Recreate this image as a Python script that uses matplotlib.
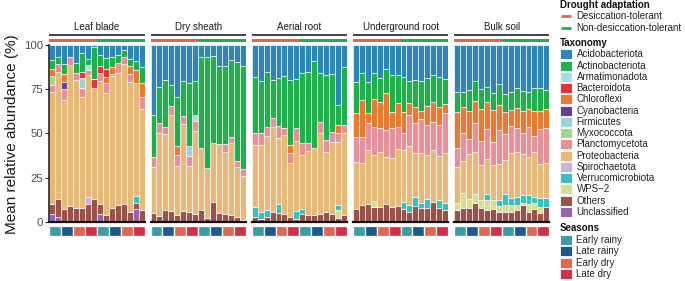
import matplotlib
matplotlib.use("Agg")
import matplotlib.pyplot as plt
from matplotlib.patches import Rectangle

plt.rcParams['font.family'] = ['Liberation Sans', 'DejaVu Sans']

# ---------------- data ----------------
taxa = ["Acidobacteriota", "Actinobacteriota", "Armatimonadota", "Bacteroidota",
        "Chloroflexi", "Cyanobacteria", "Firmicutes", "Myxococcota",
        "Planctomycetota", "Proteobacteria", "Spirochaetota", "Verrucomicrobiota",
        "WPS\u22122", "Others", "Unclassified"]
taxa_colors = ["#2e86b6", "#1fb04c", "#a8dde4", "#e8333a",
               "#e97a32", "#6a3d9a", "#9fd2e1", "#a6d68e",
               "#e8909a", "#e8b878", "#cbb2da", "#36c0c0",
               "#d5df90", "#9a524a", "#9265b3"]

panels = ["Leaf blade", "Dry sheath", "Aerial root", "Underground root", "Bulk soil"]
seasons = ["Early rainy", "Early rainy", "Late rainy", "Late rainy",
           "Early dry", "Early dry", "Late dry", "Late dry"] * 2
season_names = ["Early rainy", "Late rainy", "Early dry", "Late dry"]
season_colors = ["#3a9ea8", "#1b5a8c", "#e2674f", "#d22f4b"]
drought = ["Desiccation-tolerant"] * 8 + ["Non-desiccation-tolerant"] * 8
drought_names = ["Desiccation-tolerant", "Non-desiccation-tolerant"]
drought_colors = ["#e8663a", "#1fb04c"]

leaf_blade = {
    "Unclassified":      [4.3, 2.5, 0, 0, 0, 0, 0, 0, 4.3, 0, 0, 0, 0, 0, 7.2, 0],
    "Others":            [5.7, 10.5, 7.2, 9.0, 7.7, 7.5, 10.0, 12.6, 5.7, 3.8, 7.5, 9.2, 10.0, 5.5, 3.6, 6.6],
    "Verrucomicrobiota": [0, 0, 0, 0, 0, 0, 0, 0, 0, 0, 0, 0, 0, 0, 3.7, 0],
    "Spirochaetota":     [0, 0, 0, 0, 0, 0, 3.8, 0, 0, 0, 0, 0, 0, 0, 0, 0],
    "Proteobacteria":    [63.4, 71.5, 61.8, 79.9, 72.7, 62.9, 69.0, 63.1, 69.4, 69.0, 74.8, 75.0, 79.3, 73.6, 64.0, 57.0],
    "Planctomycetota":   [3.8, 4.8, 6.1, 4.3, 3.8, 5.3, 3.2, 0, 4.8, 5.7, 1.5, 5.6, 3.7, 4.7, 0, 7.2],
    "Myxococcota":       [5.4, 0, 0, 0, 0, 0, 0, 0, 0, 0, 0, 0, 0, 0, 0, 0],
    "Firmicutes":        [0, 0, 0, 0, 0, 5.6, 0, 0, 0, 0, 0, 0, 0, 0, 0, 0],
    "Cyanobacteria":     [0, 0, 3.8, 0, 0, 0, 0, 0, 0, 0, 0, 0, 0, 0, 0, 0],
    "Chloroflexi":       [3.8, 0, 4.9, 0, 0, 0, 0, 0, 0, 3.4, 3.6, 0, 0, 4.5, 7.5, 7.5],
    "Bacteroidota":      [0, 0, 0, 0, 0, 3.4, 0, 5.1, 4.1, 4.5, 0, 0, 0, 0, 0, 0],
    "Armatimonadota":    [0, 0, 0, 0, 0, 0, 2.9, 0, 0, 0, 0, 0, 0, 0, 0, 0],
    "Actinobacteriota":  [5.2, 3.7, 5.7, 0, 5.6, 10.8, 3.4, 18.2, 5.9, 6.3, 5.6, 4.4, 4.4, 4.0, 4.8, 9.4],
    "Acidobacteriota":   [8.4, 7.0, 10.5, 6.8, 10.2, 4.5, 7.7, 1.0, 5.8, 7.3, 7.0, 5.8, 2.6, 7.7, 9.2, 12.3],
}

dry_sheath = {
    "Others":           [5.1, 3.2, 6.6, 6.0, 3.8, 6.2, 5.5, 4.5, 6.6, 1.9, 10.9, 4.7, 4.5, 3.8, 2.5, 0.9],
    "Proteobacteria":   [26.0, 46.8, 43.0, 54.4, 27.9, 48.9, 26.2, 46.8, 34.9, 28.3, 33.4, 39.3, 35.1, 40.9, 28.3, 25.1],
    "Planctomycetota":  [5.7, 5.7, 4.2, 5.1, 6.0, 4.7, 5.7, 5.7, 0, 0, 0, 0, 4.4, 3.4, 3.5, 3.6],
    "Firmicutes":       [0, 0, 0, 0, 0, 0, 5.4, 0, 0, 0, 0, 0, 0, 0, 0, 0],
    "Chloroflexi":      [0, 0, 0, 0, 5.1, 0, 0, 0, 0, 0, 0, 0, 0, 0, 0, 0],
    "Armatimonadota":   [0, 0, 0, 0, 0, 0, 0, 3.4, 0, 0, 0, 0, 0, 0, 0, 0],
    "Actinobacteriota": [23.6, 20.3, 26.4, 11.7, 28.0, 19.8, 35.5, 19.2, 51.9, 62.8, 49.5, 44.3, 44.1, 43.4, 56.1, 58.7],
    "Acidobacteriota":  [39.6, 24.0, 19.8, 22.8, 29.2, 20.4, 21.7, 20.4, 6.6, 7.0, 6.2, 11.7, 11.9, 8.5, 9.6, 11.7],
}

aerial_root = {
    "Others":            [2.5, 1.3, 2.8, 5.7, 4.7, 4.2, 2.8, 1.3, 4.2, 3.8, 3.8, 4.2, 5.7, 4.2, 2.3, 3.8],
    "WPS\u22122":        [0, 0, 0, 0, 0, 0, 0, 0, 0, 0, 0, 0, 0, 0, 4.3, 0],
    "Verrucomicrobiota": [5.6, 4.0, 3.8, 0, 5.1, 0, 0, 4.7, 3.0, 0, 0, 0, 0, 0, 2.9, 0],
    "Proteobacteria":    [35.3, 38.1, 41.9, 47.7, 37.4, 44.9, 30.6, 39.8, 30.5, 36.4, 38.1, 45.8, 33.9, 41.1, 35.8, 46.2],
    "Planctomycetota":   [6.6, 6.6, 5.3, 5.1, 7.0, 3.7, 5.3, 7.0, 6.6, 4.5, 0, 6.6, 6.6, 5.6, 5.1, 4.7],
    "Chloroflexi":       [0, 0, 0, 0, 0, 0, 4.7, 0, 0, 0, 0, 0, 0, 0, 4.3, 0],
    "Actinobacteriota":  [31.7, 29.6, 31.1, 21.7, 26.9, 29.7, 36.8, 27.8, 39.7, 40.0, 49.0, 27.4, 36.8, 32.5, 11.3, 33.0],
    "Acidobacteriota":   [18.3, 20.4, 15.1, 19.8, 18.9, 17.5, 19.8, 19.4, 16.0, 15.3, 9.1, 16.0, 17.0, 16.6, 34.0, 12.3],
}

underground_root = {
    "Others":            [7.2, 9.5, 10.0, 8.5, 8.5, 9.8, 8.5, 9.0, 7.2, 5.7, 9.1, 7.6, 7.9, 11.3, 7.6, 6.6],
    "WPS\u22122":        [0, 0, 0, 3.2, 0, 0, 0, 0, 0, 0, 0, 0, 0, 0, 0, 0],
    "Verrucomicrobiota": [0, 0, 0, 0, 0, 0, 0, 0, 3.8, 3.8, 4.7, 2.8, 4.7, 0, 4.7, 3.8],
    "Proteobacteria":    [26.8, 23.9, 30.6, 26.0, 31.1, 27.0, 27.3, 31.9, 29.6, 33.3, 24.9, 28.3, 25.1, 29.3, 24.9, 28.3],
    "Planctomycetota":   [13.7, 14.7, 15.1, 16.1, 13.2, 15.1, 17.4, 12.5, 9.4, 17.6, 17.0, 19.2, 17.0, 16.0, 17.5, 22.6],
    "Chloroflexi":       [13.6, 20.8, 6.0, 15.5, 15.1, 20.7, 9.1, 13.6, 12.3, 6.6, 9.4, 4.9, 11.0, 11.3, 10.0, 5.3],
    "Actinobacteriota":  [18.0, 15.1, 17.2, 14.7, 13.6, 13.6, 20.7, 16.0, 19.8, 12.7, 15.1, 17.0, 15.8, 15.1, 17.0, 14.0],
    "Acidobacteriota":   [20.7, 16.0, 21.1, 16.0, 18.5, 13.8, 17.0, 17.0, 17.9, 20.3, 19.8, 20.2, 18.5, 17.0, 18.3, 19.4],
}

bulk_soil = {
    "Others":            [6.6, 7.9, 7.9, 10.4, 7.6, 6.6, 7.2, 5.7, 5.7, 5.7, 6.6, 9.4, 5.7, 7.2, 4.7, 8.5],
    "WPS\u22122":        [3.8, 8.1, 4.9, 5.1, 4.7, 5.7, 5.1, 3.4, 3.7, 3.7, 2.8, 1.0, 4.1, 3.2, 3.8, 0],
    "Verrucomicrobiota": [0, 0, 0, 0, 0, 3.2, 0, 3.2, 6.1, 3.8, 4.8, 4.7, 5.3, 3.8, 4.7, 4.7],
    "Proteobacteria":    [20.7, 18.3, 25.5, 24.1, 19.8, 19.8, 19.8, 20.2, 19.4, 25.5, 25.4, 23.2, 21.7, 25.4, 19.4, 19.8],
    "Planctomycetota":   [10.4, 15.7, 8.3, 16.4, 13.6, 17.0, 13.2, 19.4, 14.5, 15.5, 13.2, 12.1, 17.0, 8.9, 19.7, 20.2],
    "Chloroflexi":       [20.8, 15.1, 16.2, 12.3, 18.1, 15.2, 18.1, 14.1, 12.9, 9.2, 11.7, 12.4, 10.0, 14.3, 10.5, 10.6],
    "Actinobacteriota":  [11.3, 8.5, 11.7, 11.3, 11.1, 8.5, 9.5, 11.9, 10.0, 10.2, 11.3, 11.2, 9.8, 12.7, 12.7, 10.7],
    "Acidobacteriota":   [26.4, 26.4, 25.5, 20.4, 25.1, 24.0, 27.1, 22.1, 27.7, 26.4, 24.2, 26.0, 26.4, 24.5, 24.5, 25.5],
}

panel_data = [leaf_blade, dry_sheath, aerial_root, underground_root, bulk_soil]
y_ticks = [0, 25, 50, 75, 100]

# ---------------- layout ----------------
W, H = 685, 281
fig = plt.figure(figsize=(W / 100, H / 100), dpi=100)


def px_axes(x0, y0, x1, y1):
    return fig.add_axes([x0 / W, 1 - y1 / H, (x1 - x0) / W, (y1 - y0) / H])


color_of = dict(zip(taxa, taxa_colors))
season_col = dict(zip(season_names, season_colors))
drought_col = dict(zip(drought_names, drought_colors))
stack_order = taxa[::-1]  # bottom -> top
n = len(seasons)
xs = list(range(n))

panel_left = 49.3
panel_w = 95.2
panel_step = 101.2
top_px, bot_px = 45.0, 221.7

for i, (name, data) in enumerate(zip(panels, panel_data)):
    x0 = panel_left + i * panel_step
    x1 = x0 + panel_w
    ax = px_axes(x0, top_px, x1, bot_px)
    bottom = [0.0] * n
    for t in stack_order:
        vals = data.get(t, [0.0] * n)
        ax.bar(xs, vals, width=1.0, bottom=bottom, color=color_of[t],
               edgecolor="white", linewidth=0.45)
        bottom = [b + v for b, v in zip(bottom, vals)]
    ax.set_xlim(-0.5, n - 0.5)
    ax.set_ylim(0, 100)
    ax.set_xticks([])
    for s in ["top", "right"]:
        ax.spines[s].set_visible(False)
    ax.spines["bottom"].set_color("#111111")
    ax.spines["bottom"].set_linewidth(1.6)
    if i == 0:
        ax.set_yticks(y_ticks)
        ax.set_yticklabels([str(v) for v in y_ticks], fontsize=8.2, color="#4d4d4d")
        ax.tick_params(axis="y", length=3, width=0.8, color="#333333", pad=1.5)
        ax.spines["left"].set_color("#111111")
        ax.spines["left"].set_linewidth(1.1)
    else:
        ax.set_yticks([])
        ax.spines["left"].set_visible(False)

    # drought strip + header line + title
    sx = px_axes(x0, 39.3, x1, 42.0)
    sx.bar(xs, [1] * n, width=1.0, color=[drought_col[d] for d in drought], linewidth=0)
    sx.set_xlim(-0.5, n - 0.5)
    sx.set_ylim(0, 1)
    sx.axis("off")
    hy = (42.0 - 34.6) / 2.7
    sx.plot([0, 1], [hy, hy], transform=sx.transAxes, color="#333333",
            linewidth=1.3, clip_on=False, solid_capstyle="butt")
    sx.text(0.5, (42.0 - 27.0) / 2.7, name, transform=sx.transAxes, ha="center",
            va="center", fontsize=7, color="#1a1a1a")

    # season strip
    gx = px_axes(x0, 225.7, x1, 235.5)
    blocks = []
    for j, s in enumerate(seasons):
        if blocks and blocks[-1][0] == s and blocks[-1][2] == j - 1 and (j - blocks[-1][1]) < 2:
            blocks[-1][2] = j
        else:
            blocks.append([s, j, j])
    for s, a, b in blocks:
        gx.bar((a + b) / 2, 1, width=b - a + 1, color=season_col[s],
               edgecolor="white", linewidth=0.9)
    gx.set_xlim(-0.5, n - 0.5)
    gx.set_ylim(0, 1)
    gx.axis("off")

fig.text(12.5 / W, 1 - 134 / H, "Mean relative abundance (%)", rotation=90,
         ha="center", va="center", fontsize=11, color="#1a1a1a")

# ---------------- legend ----------------
lg = fig.add_axes([0, 0, 1, 1])
lg.set_xlim(0, W)
lg.set_ylim(H, 0)
lg.axis("off")
kx0, kx1, tx = 560.0, 572.5, 576.5

lg.text(kx0, 5.2, "Drought adaptation", fontsize=7, fontweight="bold",
        va="center", ha="left", color="#111111")
for k, (nm, c) in enumerate(zip(drought_names, drought_colors)):
    y = 16.0 + 11.6 * k
    lg.plot([kx0 + 1, kx1 - 1], [y, y], color=c, linewidth=2.0, solid_capstyle="butt")
    lg.text(tx, y, nm, fontsize=7, va="center", ha="left", color="#222222")

lg.text(kx0, 42.8, "Taxonomy", fontsize=7, fontweight="bold",
        va="center", ha="left", color="#111111")
for k, (nm, c) in enumerate(zip(taxa, taxa_colors)):
    y = 54.4 + 11.24 * k
    lg.add_patch(Rectangle((kx0, y - 5.0), kx1 - kx0, 10.0, facecolor=c,
                           edgecolor="white", linewidth=0.6))
    lg.text(tx, y, nm, fontsize=7, va="center", ha="left", color="#222222")

lg.text(kx0, 228.4, "Seasons", fontsize=7, fontweight="bold",
        va="center", ha="left", color="#111111")
for k, (nm, c) in enumerate(zip(season_names, season_colors)):
    y = 240.0 + 11.33 * k
    lg.add_patch(Rectangle((kx0, y - 5.0), kx1 - kx0, 10.0, facecolor=c,
                           edgecolor="white", linewidth=0.6))
    lg.text(tx, y, nm, fontsize=7, va="center", ha="left", color="#222222")

fig.savefig("out.png", dpi=100)
